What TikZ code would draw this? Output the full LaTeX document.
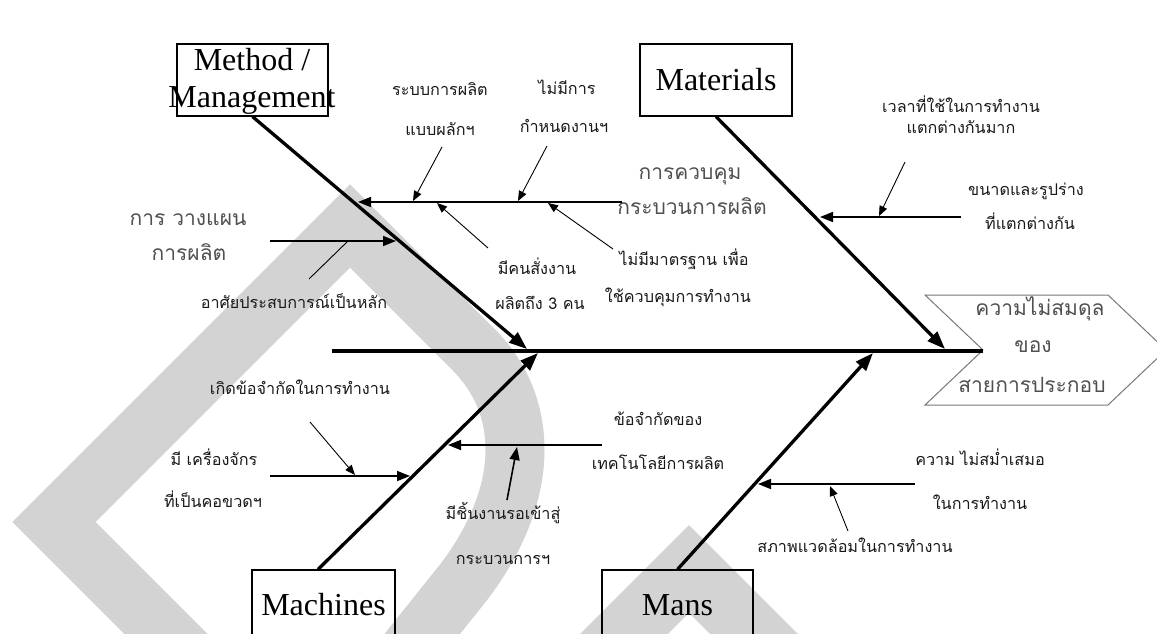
\documentclass[tikz,border=0pt]{standalone}
\usepackage{fontspec}
\setmainfont{Liberation Serif}
\newfontfamily\thai[Script=Thai]{Loma}
\usetikzlibrary{arrows.meta,calc}
\definecolor{wm}{RGB}{211,211,211}
\definecolor{bigtxt}{RGB}{80,80,80}
\definecolor{headgray}{RGB}{120,120,120}
\begin{document}
\begin{tikzpicture}[x=1pt,y=-1pt,
  bone/.style={line width=3.3pt, -{Triangle[length=18pt,width=13pt]}},
  spineline/.style={line width=3.6pt},
  sub/.style={line width=1.7pt, -{Triangle[length=13pt,width=10pt]}},
  midarrow/.style={line width=1.6pt, -{Triangle[length=13pt,width=10pt]}},
  thin/.style={line width=0.9pt, -{Triangle[length=10pt,width=8pt]}},
  thinline/.style={line width=0.9pt},
  box/.style={draw, line width=1.2pt, inner sep=0pt, font=\fontsize{32}{35}\selectfont},
  small/.style={inner sep=0pt, anchor=mid, font=\thai\fontsize{16.2}{19}\selectfont, text=black!90},
  big/.style={inner sep=0pt, anchor=mid, font=\thai\fontsize{21}{25}\selectfont, text=bigtxt},
  water/.style={draw=wm, line width=59pt, line join=miter}
]
\useasboundingbox (0,0) rectangle (1157,633);
\begin{scope}
\clip (0,0) rectangle (1157,633);
\fill[white] (0,0) rectangle (1157,633);
% watermark
\draw[water] (230,698) -- (54,522) -- (350,226) -- (473,349)
  .. controls (500,376) and (515,410) .. (515,450)
  .. controls (515,500) and (490,548) .. (463,583) -- (423,633) -- (380,687);
\draw[water, line width=62pt] (559,699) -- (689,569) -- (819,699);

% boxes
\node[box, minimum width=151pt, minimum height=72pt] (mbox) at (252.5,80) {};
\node[align=center, inner sep=0pt, font=\fontsize{32}{37}\selectfont] (mtext) at (252,81) {Method /\\Management};
\node[box, minimum width=152pt, minimum height=72pt] (matbox) at (716,80) {Materials};
\node[box, minimum width=143pt, minimum height=70pt] (macbox) at (323.5,605) {Machines};
\node[box, minimum width=151pt, minimum height=70pt] (manbox) at (677.5,605) {Mans};

% head
\draw[draw=headgray, line width=1pt] (925,295) -- (1108,295) -- (1166,350) -- (1108,405) -- (925,405) -- (983,350) -- cycle;
\coordinate (notch) at (983,351);
\node[big] (h1) at (1040,313) {ความไม่สมดุล};
\node[big] (h2) at (1033,350) {ของ};
\node[big] (h3) at (1032,390) {สายการประกอบ};

% spine
\coordinate (spL) at (332,351);
\draw[spineline] (spL) -- (notch);

% bones
\coordinate (tipMet) at (527,349);
\coordinate (tipMat) at (945,349);
\coordinate (tipMac) at (538,353);
\coordinate (tipMan) at (873,353);
\draw[bone] (mbox.south) -- (tipMet);
\draw[bone] (matbox.south) -- (tipMat);
\draw[bone] ([xshift=-5.5pt]macbox.north) -- (tipMac);
\draw[bone] (manbox.north) -- (tipMan);

% control of production
\node[big] (ctrl1) at (690,177) {การควบคุม};
\node[big] (ctrl2) at (692,212) {กระบวนการผลิต};
\coordinate (ctrlR) at (622,202);
\coordinate (ctrlT) at (358,202);
\draw[sub] (ctrlR) -- (ctrlT);

\node[small] (push1) at (440,93) {ระบบการผลิต};
\node[small] (push2) at (440,133) {แบบผลักฯ};
\coordinate (pushS) at (442,147);
\coordinate (pushT) at (413,201);
\draw[thin] (pushS) -- (pushT);

\node[small] (sch1) at (567,92) {ไม่มีการ};
\node[small] (sch2) at (564,130) {กำหนดงานฯ};
\coordinate (schS) at (547,146);
\coordinate (schT) at (518,201);
\draw[thin] (schS) -- (schT);

\node[small] (boss1) at (537,272) {มีคนสั่งงาน};
\node[small] (boss2) at (540,307) {ผลิตถึง 3 คน};
\coordinate (bossS) at (488,248);
\coordinate (bossT) at (437,203);
\draw[thin] (bossS) -- (bossT);

\node[small] (std1) at (684,263) {ไม่มีมาตรฐาน เพื่อ};
\node[small] (std2) at (678,300) {ใช้ควบคุมการทำงาน};
\coordinate (stdS) at (613,249);
\coordinate (stdT) at (548,203);
\draw[thin] (stdS) -- (stdT);

% planning
\node[big] (plan1) at (188,223) {การ วางแผน};
\node[big] (plan2) at (189,258) {การผลิต};
\coordinate (planS) at (270,241);
\coordinate (planT) at (396,241);
\draw[sub] (planS) -- (planT);
\node[small] (exp) at (294,306) {อาศัยประสบการณ์เป็นหลัก};
\coordinate (expS) at (309,279);
\coordinate (expE) at (348,241);
\draw[thinline] (expS) -- (expE);

% materials
\node[small] (size1) at (1026,193) {ขนาดและรูปร่าง};
\node[small] (size2) at (1030,227) {ที่แตกต่างกัน};
\coordinate (sizeS) at (961,217);
\coordinate (sizeT) at (820,217);
\draw[sub] (sizeS) -- (sizeT);
\node[small] (time1) at (961,110) {เวลาที่ใช้ในการทำงาน};
\node[small] (time2) at (961,131) {แตกต่างกันมาก};
\coordinate (timeS) at (905,162);
\coordinate (timeT) at (879,216);
\draw[thin] (timeS) -- (timeT);

% machines
\node[small] (mc1) at (214,463) {มี เครื่องจักร};
\node[small] (mc2) at (213,505) {ที่เป็นคอขวดฯ};
\coordinate (mcS) at (270,476);
\coordinate (mcT) at (410,476);
\draw[sub] (mcS) -- (mcT);
\node[small] (lim) at (300,392) {เกิดข้อจำกัดในการทำงาน};
\coordinate (limS) at (310,422);
\coordinate (limT) at (355,475);
\draw[thin] (limS) -- (limT);
\node[small] (tech1) at (658,423) {ข้อจำกัดของ};
\node[small] (tech2) at (658,467) {เทคโนโลยีการผลิต};
\coordinate (techS) at (602,445);
\coordinate (techT) at (448,445);
\draw[sub] (techS) -- (techT);
\node[small] (wait1) at (503,517) {มีชิ้นงานรอเข้าสู่};
\node[small] (wait2) at (503,562) {กระบวนการฯ};
\coordinate (waitS) at (507,500);
\coordinate (waitT) at (517,447);
\draw[midarrow] (waitS) -- (waitT);

% mans
\node[small] (irr1) at (980,463) {ความ ไม่สม่ำเสมอ};
\node[small] (irr2) at (980,507) {ในการทำงาน};
\coordinate (irrS) at (915,484);
\coordinate (irrT) at (758,484);
\draw[sub] (irrS) -- (irrT);
\node[small] (env) at (855,550) {สภาพแวดล้อมในการทำงาน};
\coordinate (envS) at (848,531);
\coordinate (envT) at (830,486);
\draw[thin] (envS) -- (envT);
\end{scope}
\end{tikzpicture}
\end{document}
